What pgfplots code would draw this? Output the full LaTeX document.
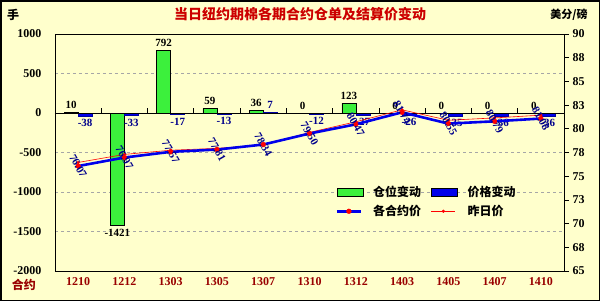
\documentclass[border=0pt]{standalone}
\usepackage{fontspec}
\setmainfont{Liberation Serif}
\newfontfamily\cjk{Noto Sans CJK SC}
\usepackage{pgfplots}
\pgfplotsset{compat=1.18}
\pgfkeys{/pgf/number format/1000 sep={}}
\definecolor{bg}{RGB}{255,255,204}
\definecolor{barg}{RGB}{60,240,60}
\definecolor{barb}{RGB}{0,0,235}
\definecolor{ttl}{RGB}{204,0,0}
\definecolor{xl}{RGB}{153,0,0}
\definecolor{lbl}{RGB}{0,0,140}
\begin{document}
\begin{tikzpicture}[x=1pt,y=1pt]
\useasboundingbox (0,0) rectangle (600,301);
\fill[bg] (0,0) rectangle (600,301);
\draw[black, line width=1.5pt] (0.75,0.75) rectangle (599.25,300.25);
\node[text=ttl, font=\cjk\bfseries\fontsize{14}{14}\selectfont] at (300,287) {当日纽约期棉各期合约仓单及结算价变动};
\node[font=\cjk\bfseries\fontsize{12}{12}\selectfont] at (13,286) {手};
\node[font=\cjk\bfseries\fontsize{11}{11}\selectfont] at (569,286) {美分/磅};
\node[text=xl, font=\cjk\bfseries\fontsize{12}{12}\selectfont] at (24,16) {合约};
\begin{axis}[
  at={(55pt,30pt)}, anchor=south west,
  scale only axis, width=509pt, height=237pt,
  xmin=-0.5, xmax=10.5, ymin=-2000, ymax=1000,
  ybar=0pt, bar width=14pt,
  axis line style={black, line width=0.8pt},
  ytick={-2000,-1500,...,1000},
  xtick={0,...,10},
  xticklabels={1210,1212,1303,1305,1307,1310,1312,1403,1405,1407,1410},
  xticklabel style={font=\bfseries\fontsize{12}{12}\selectfont, text=xl, yshift=-3pt},
  yticklabel style={font=\bfseries\fontsize{12}{12}\selectfont, xshift=-10pt},
  /pgf/number format/assume math mode=true,
  /pgf/number format/1000 sep={},
  xtick pos=bottom, ytick pos=left,
  major tick length=0pt,
  ymajorgrids, grid style={gray!70, dashed, line width=0.5pt},
  nodes near coords={\pgfmathprintnumber[assume math mode=true,1000 sep={}]{\pgfplotspointmeta}},
  every node near coord/.append style={font=\bfseries\fontsize{11}{11}\selectfont},
  clip=false,
]
\addplot[fill=barg, draw=black, line width=0.4pt, bar shift=-7pt,
  every node near coord/.append style={text=black}]
  coordinates {(0,10) (1,-1421) (2,792) (3,59) (4,36) (5,0) (6,123) (7,0) (8,0) (9,0) (10,0)};
\addplot[fill=barb, draw=barb!70!black, line width=0.4pt, bar shift=7pt,
  every node near coord/.append style={text=lbl}]
  coordinates {(0,-38) (1,-33) (2,-17) (3,-13) (4,7) (5,-12) (6,-27) (7,-26) (8,-35) (9,-36) (10,-36)};
\draw[black, line width=0.8pt] (axis cs:-0.5,0) -- (axis cs:10.5,0);
\pgfplotsinvokeforeach{0.5,1.5,...,9.5}{\draw[black, line width=0.8pt] (axis cs:#1,0) -- ++(0pt,5pt);}
\end{axis}
\begin{axis}[
  at={(55pt,30pt)}, anchor=south west,
  scale only axis, width=509pt, height=237pt,
  xmin=-0.5, xmax=10.5, ymin=65, ymax=90,
  axis y line*=right, axis x line=none,
  axis line style={black, line width=0.8pt},
  ytick={65,67.5,...,90},
  yticklabels={65,68,70,73,75,78,80,83,85,88,90},
  yticklabel style={font=\bfseries\fontsize{12}{12}\selectfont},
  tick align=outside, major tick length=5pt, tick style={black, line width=0.8pt},
  legend columns=2, legend cell align=left,
  legend style={at={(0.545,0.375)}, anchor=north west, draw=none, fill=none,
    font=\cjk\bfseries\fontsize{12}{12}\selectfont, column sep=8pt, row sep=3pt},
  legend image code/.code={\draw[#1] (0pt,0pt) -- (24pt,0pt); \draw[#1, only marks] plot coordinates {(12pt,0pt)};},
  clip=false,
]
\addlegendimage{legend image code/.code={\draw[fill=barg, draw=black] (0pt,-4pt) rectangle (26pt,4pt);}}
\addlegendentry{仓位变动}
\addlegendimage{legend image code/.code={\draw[fill=barb, draw=black] (0pt,-4pt) rectangle (26pt,4pt);}}
\addlegendentry{价格变动}
\addplot[red, line width=0.6pt, mark=*, mark size=1.3pt, mark options={fill=red, draw=red}, forget plot]
  coordinates {(0,76.45) (1,77.30) (2,77.74) (3,77.94) (4,78.27) (5,79.62) (6,80.74) (7,82.00) (8,80.90) (9,81.15) (10,81.44)};
\addplot[barb, line width=2.6pt, mark=*, mark size=2.4pt, mark options={fill=red, draw=red, line width=0.4pt},
  nodes near coords={\pgfmathprintnumber[fixed,precision=2,zerofill,assume math mode=true]{\pgfplotspointmeta}},
  every node near coord/.append style={rotate=-60, anchor=center, text=lbl, font=\bfseries\fontsize{11}{11}\selectfont}]
  coordinates {(0,76.07) (1,76.97) (2,77.57) (3,77.81) (4,78.34) (5,79.50) (6,80.47) (7,81.74) (8,80.55) (9,80.79) (10,81.08)};
\addlegendentry{各合约价}
\addlegendimage{red, line width=0.6pt, mark=*, mark size=1.3pt, mark options={fill=red, draw=red}}
\addlegendentry{昨日价}
\end{axis}
\end{tikzpicture}
\end{document}
